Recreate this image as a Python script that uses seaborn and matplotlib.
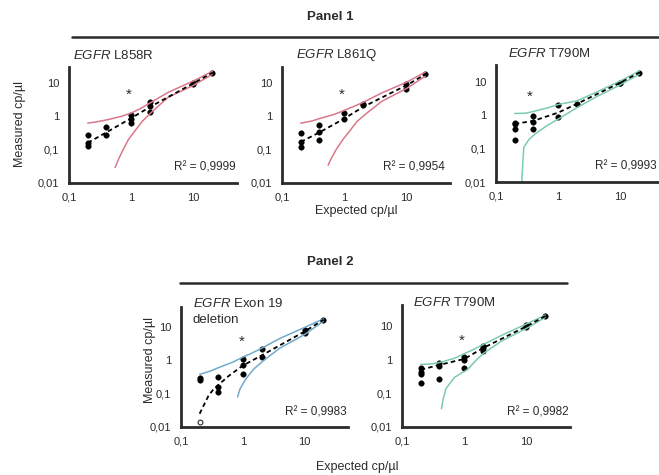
import matplotlib
matplotlib.use("Agg")
import matplotlib.pyplot as plt
import seaborn as sns
from matplotlib.lines import Line2D
from matplotlib.ticker import FixedLocator, FixedFormatter, NullLocator

# --- data (expected vs measured cp/ul) ---
l858r_x = [0.2, 0.2, 0.2, 0.4, 0.4, 1, 1, 1, 2, 2, 2, 10, 10, 20]
l858r_y = [0.27, 0.16, 0.13, 0.49, 0.27, 1.07, 0.81, 0.65, 2.6, 2.0, 1.35, 10.2, 9.5, 20.5]
l858r_fit_x = [0.2, 0.4, 1, 2, 10, 20]
l858r_fit_y = [0.16, 0.33, 0.88, 1.9, 9.8, 20]
l858r_up_x = [0.2, 0.3, 0.43, 0.7, 1, 1.4, 2, 3.9, 10, 20]
l858r_up_y = [0.62, 0.7, 0.8, 1.0, 1.25, 1.7, 2.5, 5.2, 11.5, 22]
l858r_lo_x = [0.55, 0.62, 0.74, 0.9, 1.14, 1.5, 2.0, 3.9, 10, 20]
l858r_lo_y = [0.029, 0.05, 0.10, 0.2, 0.36, 0.7, 1.2, 3.7, 8.5, 18]

l861q_x = [0.2, 0.2, 0.2, 0.4, 0.4, 0.4, 1, 1, 2, 2, 10, 10, 20]
l861q_y = [0.31, 0.17, 0.12, 0.54, 0.34, 0.19, 1.29, 0.81, 2.4, 2.2, 9.1, 6.8, 18]
l861q_fit_x = [0.2, 0.4, 1, 2, 10, 20]
l861q_fit_y = [0.17, 0.33, 0.85, 1.9, 8.5, 18]
l861q_up_x = [0.2, 0.3, 0.4, 0.7, 1, 1.4, 2, 4, 10, 20]
l861q_up_y = [0.62, 0.72, 0.85, 1.15, 1.5, 1.95, 2.6, 5.0, 10.5, 21]
l861q_lo_x = [0.55, 0.62, 0.74, 0.95, 1.22, 1.6, 2.25, 4, 10, 20]
l861q_lo_y = [0.034, 0.055, 0.10, 0.2, 0.36, 0.7, 1.2, 2.8, 6.8, 16]

t790m1_x = [0.2, 0.2, 0.2, 0.2, 0.4, 0.4, 0.4, 1, 1, 2, 10, 10, 20]
t790m1_y = [0.6, 0.55, 0.39, 0.18, 0.97, 0.64, 0.40, 2.0, 0.86, 2.2, 9.5, 9.0, 19]
t790m1_fit_x = [0.2, 0.4, 1, 2, 10, 20]
t790m1_fit_y = [0.55, 0.68, 1.2, 2.2, 9.5, 19]
t790m1_up_x = [0.2, 0.3, 0.4, 0.7, 1, 2, 4, 10, 20]
t790m1_up_y = [1.13, 1.15, 1.3, 1.7, 2.1, 2.7, 4.8, 10.7, 21]
t790m1_lo_x = [0.26, 0.27, 0.28, 0.34, 0.43, 0.65, 0.98, 1.9, 4, 10, 20]
t790m1_lo_y = [0.01, 0.04, 0.11, 0.19, 0.28, 0.48, 0.75, 1.6, 3.5, 8.2, 17]

ex19_x = [0.2, 0.2, 0.4, 0.4, 0.4, 1, 1, 1, 2, 2, 10, 10, 20]
ex19_y = [0.30, 0.25, 0.32, 0.16, 0.11, 1.1, 0.72, 0.40, 2.2, 1.3, 8.3, 6.6, 16.5]
ex19_open_x = [0.2]
ex19_open_y = [0.0145]
ex19_fit_x = [0.2, 0.24, 0.28, 0.34, 0.41, 0.6, 1, 2, 10, 20]
ex19_fit_y = [0.025, 0.05, 0.089, 0.14, 0.19, 0.35, 0.7, 1.4, 7.4, 16.5]
ex19_up_x = [0.2, 0.3, 0.4, 0.7, 1, 1.4, 2, 4, 10, 20]
ex19_up_y = [0.38, 0.48, 0.6, 0.9, 1.25, 1.65, 2.3, 4.6, 9.8, 17.5]
ex19_lo_x = [0.82, 0.9, 1.12, 1.5, 2.05, 3.9, 10, 20]
ex19_lo_y = [0.08, 0.14, 0.28, 0.55, 0.91, 2.3, 6, 15]

t790m2_x = [0.2, 0.2, 0.2, 0.2, 0.4, 0.4, 0.4, 1, 1, 1, 2, 2, 2, 10, 10, 20]
t790m2_y = [0.57, 0.43, 0.37, 0.20, 0.81, 0.64, 0.27, 1.2, 1.0, 0.57, 2.6, 2.2, 1.75, 10.5, 9.2, 19.6]
t790m2_fit_x = [0.2, 0.4, 1, 2, 10, 20]
t790m2_fit_y = [0.5, 0.7, 1.05, 2.2, 9.8, 19.6]
t790m2_up_x = [0.2, 0.3, 0.4, 0.7, 1, 1.4, 2, 4, 10, 20]
t790m2_up_y = [0.72, 0.75, 0.82, 1.1, 1.5, 2.0, 2.8, 5.3, 11.5, 21]
t790m2_lo_x = [0.43, 0.46, 0.51, 0.7, 1.13, 1.5, 2, 4, 10, 20]
t790m2_lo_y = [0.035, 0.07, 0.14, 0.3, 0.51, 0.9, 1.5, 3.6, 8.5, 18]

star_x = [0.9, 0.9, 0.35, 0.97, 0.92]
star_y = [4.3, 4.3, 3.6, 3.7, 3.7]

mutations = ["L858R", "L861Q", "T790M", "Exon 19\ndeletion", "T790M"]
r2_labels = ["R² = 0,9999", "R² = 0,9954", "R² = 0,9993", "R² = 0,9983", "R² = 0,9982"]

x_ticks = [0.1, 1, 10]
x_tick_labels = ["0,1", "1", "10"]
y_ticks = [0.01, 0.1, 1, 10]
y_tick_labels = ["0,01", "0,1", "1", "10"]

RED = "#d9788a"
TEAL = "#7ccab0"
BLUE = "#72aacb"
INK = "#2b2b2b"

sns.set_theme(style="white")
plt.rcParams["font.family"] = ["Liberation Sans", "DejaVu Sans"]
plt.rcParams["mathtext.fontset"] = "custom"
plt.rcParams["mathtext.rm"] = "Liberation Sans"
plt.rcParams["mathtext.it"] = "Liberation Sans:italic"

W, H = 659, 475
fig = plt.figure(figsize=(W / 100, H / 100), dpi=100)


def px_axes(left, right, top, bottom):
    return fig.add_axes([left / W, 1 - bottom / H, (right - left) / W, (bottom - top) / H])


def draw(ax, px, py, fx, fy, ux, uy, lx, ly, sx, sy, color, ymax):
    sns.lineplot(x=ux, y=uy, ax=ax, sort=False, estimator=None, color=color, lw=1.1)
    sns.lineplot(x=lx, y=ly, ax=ax, sort=False, estimator=None, color=color, lw=1.1)
    sns.lineplot(x=fx, y=fy, ax=ax, sort=False, estimator=None, color="black",
                 lw=1.3, ls=(0, (2.5, 1.8)))
    sns.scatterplot(x=px, y=py, ax=ax, color="black", s=16, edgecolor="black", linewidth=0.3)
    ax.text(sx, sy, "*", ha="center", va="center", fontsize=11, color=INK)
    ax.set_xscale("log")
    ax.set_yscale("log")
    ax.set_xlim(0.1, 50)
    ax.set_ylim(0.01, ymax)
    ax.xaxis.set_major_locator(FixedLocator(x_ticks))
    ax.xaxis.set_major_formatter(FixedFormatter(x_tick_labels))
    ax.yaxis.set_major_locator(FixedLocator(y_ticks))
    ax.yaxis.set_major_formatter(FixedFormatter(y_tick_labels))
    ax.xaxis.set_minor_locator(NullLocator())
    ax.yaxis.set_minor_locator(NullLocator())
    ax.tick_params(axis="both", length=0, labelsize=8, colors=INK)
    ax.tick_params(axis="x", pad=7)
    ax.tick_params(axis="y", pad=7)
    for s in ["top", "right"]:
        ax.spines[s].set_visible(False)
    for s in ["left", "bottom"]:
        ax.spines[s].set_linewidth(2)
        ax.spines[s].set_color(INK)
    ax.set_xlabel("")
    ax.set_ylabel("")
    ax.patch.set_alpha(0)


def title(ax, name, x, y):
    ax.text(x, y, r"$\it{EGFR}$ " + name, transform=ax.transAxes, ha="left", va="center",
            fontsize=9.5, color=INK, linespacing=1.1)


# Panel 1
ax1 = px_axes(69, 237, 67, 183)
draw(ax1, l858r_x, l858r_y, l858r_fit_x, l858r_fit_y, l858r_up_x, l858r_up_y,
     l858r_lo_x, l858r_lo_y, star_x[0], star_y[0], RED, 30)
ax2 = px_axes(282, 450, 67, 183)
draw(ax2, l861q_x, l861q_y, l861q_fit_x, l861q_fit_y, l861q_up_x, l861q_up_y,
     l861q_lo_x, l861q_lo_y, star_x[1], star_y[1], RED, 30)
ax3 = px_axes(496, 664, 65, 182)
draw(ax3, t790m1_x, t790m1_y, t790m1_fit_x, t790m1_fit_y, t790m1_up_x, t790m1_up_y,
     t790m1_lo_x, t790m1_lo_y, star_x[2], star_y[2], TEAL, 32)

# Panel 2
ax4 = px_axes(181, 348, 307, 427)
draw(ax4, ex19_x, ex19_y, ex19_fit_x, ex19_fit_y, ex19_up_x, ex19_up_y,
     ex19_lo_x, ex19_lo_y, star_x[3], star_y[3], BLUE, 40)
sns.scatterplot(x=ex19_open_x, y=ex19_open_y, ax=ax4, s=12, facecolor="white",
                edgecolor=INK, linewidth=0.8)
ax5 = px_axes(402, 570, 305, 427)
draw(ax5, t790m2_x, t790m2_y, t790m2_fit_x, t790m2_fit_y, t790m2_up_x, t790m2_up_y,
     t790m2_lo_x, t790m2_lo_y, star_x[4], star_y[4], TEAL, 42)

title(ax1, mutations[0], 0.024, 1.10)
title(ax2, mutations[1], 0.083, 1.10)
title(ax3, mutations[2], 0.07, 1.10)
ax4.text(0.07, 1.03, r"$\it{EGFR}$ Exon 19", transform=ax4.transAxes, ha="left",
         va="center", fontsize=9.5, color=INK)
ax4.text(0.07, 0.89, "deletion", transform=ax4.transAxes, ha="left",
         va="center", fontsize=9.5, color=INK)
title(ax5, mutations[4], 0.065, 1.02)

r2_pos = [(0.99, 0.13), (0.97, 0.13), (0.955, 0.13), (0.99, 0.12), (0.99, 0.12)]
for ax, r2, (rx, ry) in zip([ax1, ax2, ax3, ax4, ax5], r2_labels, r2_pos):
    ax.text(rx, ry, r2, transform=ax.transAxes, ha="right", va="center", fontsize=8.5, color=INK)

# panel headers and rules
fig.text(330 / W, 1 - 17 / H, "Panel 1", ha="center", va="center", fontsize=9.5,
         fontweight="bold", color=INK)
fig.add_artist(Line2D([72 / W, 1.0], [1 - 37 / H, 1 - 37 / H], color=INK, lw=1.8))
fig.text(330 / W, 1 - 262 / H, "Panel 2", ha="center", va="center", fontsize=9.5,
         fontweight="bold", color=INK)
fig.add_artist(Line2D([180 / W, 567 / W], [1 - 283 / H, 1 - 283 / H], color=INK, lw=1.8))

# axis labels
fig.text(20 / W, 1 - 124 / H, "Measured cp/µl", rotation=90, ha="center", va="center",
         fontsize=9, color=INK)
fig.text(150 / W, 1 - 360 / H, "Measured cp/µl", rotation=90, ha="center", va="center",
         fontsize=9, color=INK)
fig.text(356 / W, 1 - 211 / H, "Expected cp/µl", ha="center", va="center", fontsize=9, color=INK)
fig.text(357 / W, 1 - 467 / H, "Expected cp/µl", ha="center", va="center", fontsize=9, color=INK)

fig.savefig("out.png", dpi=100)
plt.close(fig)
